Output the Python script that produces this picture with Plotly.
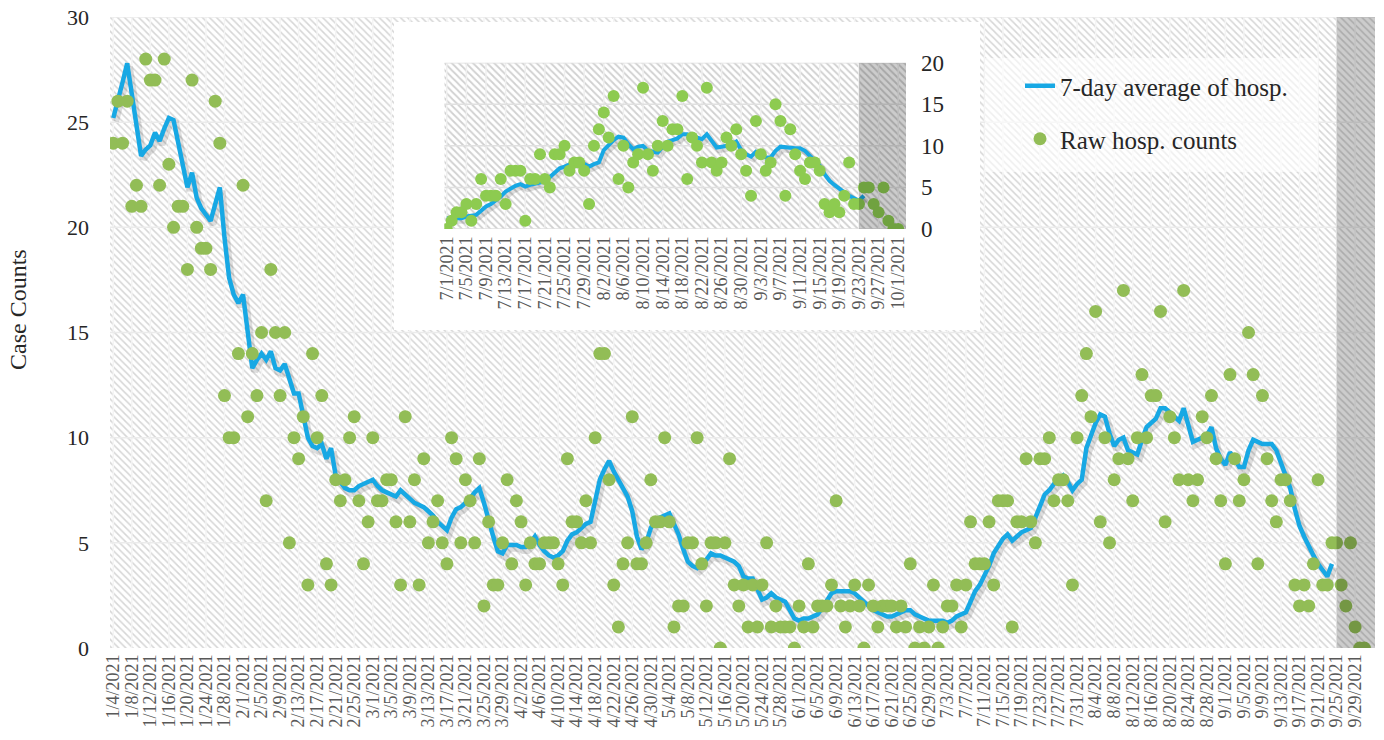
import pandas as pd
import plotly.graph_objects as go

# ---------------- data ----------------
START_DATE = "2021-01-04"

raw_counts = [
    24, 26, 24, 26, 21, 22, 21, 28, 27, 27,
    22, 28, 23, 20, 21, 21, 18, 27, 20, 19,
    19, 18, 26, 24, 12, 10, 10, 14, 22, 11,
    14, 12, 15, 7, 18, 15, 12, 15, 5, 10,
    9, 11, 3, 14, 10, 12, 4, 3, 8, 7,
    8, 10, 11, 7, 4, 6, 10, 7, 7, 8,
    8, 6, 3, 11, 6, 8, 3, 9, 5, 6,
    7, 5, 4, 10, 9, 5, 8, 7, 5, 9,
    2, 6, 3, 3, 5, 8, 4, 7, 6, 3,
    5, 4, 4, 5, 5, 5, 4, 3, 9, 6,
    6, 5, 7, 5, 10, 14, 14, 8, 3, 1,
    4, 5, 11, 4, 4, 5, 8, 6, 6, 10,
    6, 1, 2, 2, 5, 5, 10, 4, 2, 5,
    5, 0, 5, 9, 3, 2, 3, 1, 3, 1,
    3, 5, 1, 2, 1, 1, 1, 0, 2, 1,
    4, 1, 2, 2, 2, 3, 7, 2, 1, 2,
    3, 2, 0, 3, 2, 1, 2, 2, 2, 1,
    2, 1, 4, 0, 1, 0, 1, 3, 0, 1,
    2, 2, 3, 1, 3, 6, 4, 4, 4, 6,
    3, 7, 7, 7, 1, 6, 6, 9, 6, 5,
    9, 9, 10, 7, 8, 8, 7, 3, 10, 12,
    14, 11, 16, 6, 10, 5, 8, 9, 17, 9,
    7, 10, 13, 10, 12, 12, 16, 6, 11, 10,
    8, 17, 8, 7, 8, 11, 10, 12, 9, 7,
    4, 13, 9, 7, 8, 15, 13, 4, 12, 9,
    7, 6, 8, 8, 7, 3, 2, 3, 2, 4,
    8, 3, 3, 5, 5, 3, 2, 5, 1, 0,
    0,
]

avg_7day = [
    25.2, 26.0, 26.9, 27.8, 26.3, 24.8, 23.4, 23.7, 23.9, 24.5,
    24.1, 24.7, 25.2, 25.1, 24.0, 23.0, 21.9, 22.6, 21.4, 20.9,
    20.6, 20.3, 21.1, 21.9, 19.5, 17.6, 16.8, 16.4, 16.8, 15.0,
    13.3, 13.7, 14.0, 13.7, 14.1, 13.3, 13.2, 13.5, 12.8, 12.1,
    12.1, 11.0, 10.0, 9.6, 9.5, 9.7, 9.0, 9.5, 8.2, 7.9,
    7.6, 7.5, 7.5, 7.7, 7.8, 7.9, 8.0, 7.7, 7.5, 7.4,
    7.3, 7.2, 7.5, 7.3, 7.1, 6.9, 6.8, 6.7, 6.5, 6.3,
    6.0, 5.8, 5.6, 6.2, 6.6, 6.7, 6.9, 7.1, 7.4, 7.6,
    6.9, 6.0, 5.3, 4.6, 4.5, 4.9, 4.9, 4.9, 4.8, 4.8,
    5.0, 5.3, 4.9, 4.6, 4.4, 4.3, 4.4, 4.6, 5.1, 5.4,
    5.5, 5.7, 5.9, 6.0, 7.0, 8.0, 8.5, 8.9, 8.4, 8.0,
    7.7, 7.2, 6.5, 5.3, 4.7, 5.0, 5.7, 6.1, 6.2, 6.3,
    6.4, 5.9, 5.4, 4.7, 4.1, 3.9, 3.8, 4.0, 4.2, 4.5,
    4.4, 4.4, 4.3, 4.2, 4.1, 3.9, 3.4, 3.3, 3.3, 2.8,
    2.3, 2.4, 2.6, 2.4, 2.3, 2.2, 1.8, 1.4, 1.3, 1.4,
    1.4, 1.5, 1.6, 1.9, 2.3, 2.6, 2.7, 2.7, 2.7, 2.7,
    2.6, 2.4, 2.2, 2.0, 1.8, 1.7, 1.6, 1.5, 1.5, 1.6,
    1.7, 1.8, 1.8, 1.6, 1.5, 1.4, 1.3, 1.3, 1.3, 1.3,
    1.2, 1.3, 1.5, 1.6, 1.7, 2.2, 2.7, 3.0, 3.4, 3.9,
    4.5, 4.9, 5.2, 5.4, 5.1, 5.3, 5.5, 5.6, 5.7, 6.2,
    6.8, 7.3, 7.5, 7.8, 8.0, 8.2, 7.9, 7.5, 7.8, 8.0,
    9.5, 10.1, 10.7, 11.1, 11.0, 10.2, 9.6, 9.9, 10.0, 9.4,
    9.3, 9.2, 9.9, 10.5, 10.7, 10.9, 11.4, 11.4, 11.2, 11.0,
    10.8, 11.4, 10.5, 9.8, 9.9, 10.0, 10.1, 10.5, 9.5, 9.0,
    8.7, 9.3, 9.0, 8.6, 8.6, 9.4, 9.9, 9.8, 9.7, 9.7,
    9.7, 9.4, 8.8, 8.2, 7.6, 6.6, 5.8, 5.3, 4.8, 4.4,
    4.0, 3.7, 3.4, 4.0,
]

main_tick_dates = pd.date_range("2021-01-04", "2021-09-29", freq="4D")
inset_tick_dates = pd.date_range("2021-07-01", "2021-10-01", freq="4D")
main_y_ticks = [0, 5, 10, 15, 20, 25, 30]
inset_y_ticks = [0, 5, 10, 15, 20]
INSET_START = "2021-07-01"
MAIN_SHADE_START = "2021-09-25"
INSET_SHADE_START = "2021-09-23"

LINE_NAME = "7-day average of hosp."
DOTS_NAME = "Raw hosp. counts"
Y_TITLE = "Case Counts"

# ---------------- derived ----------------
dates = pd.date_range(START_DATE, periods=len(raw_counts), freq="D")
avg_dates = dates[: len(avg_7day)]
raw_s = pd.Series(raw_counts, index=dates)
avg_s = pd.Series(avg_7day, index=avg_dates)
raw_in = raw_s[INSET_START:]
avg_in = avg_s[INSET_START:]

def d2s(d):
    return pd.Timestamp(d).strftime("%Y-%m-%d %H:%M")

def mdY(d):
    return f"{d.month}/{d.day}/{d.year}"

W, H = 1384, 740
FONT = "Liberation Serif"
BLUE = "#17A8E4"
GREEN = "#92BD56"
GREEN_IN = "#8DCB50"

main_xr = [pd.Timestamp("2021-01-04") - pd.Timedelta(hours=17),
           pd.Timestamp("2021-10-03") + pd.Timedelta(hours=7)]
main_yr = [0, 30]
inset_xr = [pd.Timestamp("2021-07-01") - pd.Timedelta(hours=12),
            pd.Timestamp("2021-10-01") + pd.Timedelta(hours=38)]
inset_yr = [0, 20]

def hatch_trace(xr, yr, xa, ya, fg, solidity):
    return go.Scatter(
        x=[d2s(xr[0]), d2s(xr[1]), d2s(xr[1]), d2s(xr[0]), d2s(xr[0])],
        y=[yr[0], yr[0], yr[1], yr[1], yr[0]],
        fill="toself", mode="none", fillcolor="white",
        fillpattern=dict(shape="\\", fgcolor=fg, bgcolor="white", size=5, solidity=solidity),
        xaxis=xa, yaxis=ya, hoverinfo="skip", showlegend=False)

def grid_trace(xticks, yticks, xr, yr, xa, ya, vcolor, hcolor, width):
    gx, gy = [], []
    for d in xticks:
        gx += [d2s(d), d2s(d), None]
        gy += [yr[0], yr[1], None]
    tr1 = go.Scatter(x=gx, y=gy, mode="lines", line=dict(color=vcolor, width=width),
                     xaxis=xa, yaxis=ya, hoverinfo="skip", showlegend=False)
    hx, hy = [], []
    for v in yticks:
        hx += [d2s(xr[0]), d2s(xr[1]), None]
        hy += [v, v, None]
    tr2 = go.Scatter(x=hx, y=hy, mode="lines", line=dict(color=hcolor, width=width),
                     xaxis=xa, yaxis=ya, hoverinfo="skip", showlegend=False)
    return [tr1, tr2]

fig = go.Figure()

# main base: hatch + grid
fig.add_trace(hatch_trace(main_xr, main_yr, "x", "y", "#d6d6d6", 0.3))
for t in grid_trace(main_tick_dates, main_y_ticks[1:], main_xr, main_yr, "x", "y",
                    "#f4f4f4", "#ebebeb", 1.5):
    fig.add_trace(t)

# main shadow (overlay axes shifted slightly)
fig.add_trace(go.Scatter(x=avg_s.index, y=avg_s.values, mode="lines",
                         line=dict(color="rgba(0,0,0,0.13)", width=7),
                         xaxis="x4", yaxis="y4", hoverinfo="skip", showlegend=False))
# main data
fig.add_trace(go.Scatter(x=avg_s.index, y=avg_s.values, mode="lines", name=LINE_NAME,
                         line=dict(color=BLUE, width=4.5), xaxis="x5", yaxis="y5",
                         legend="legend"))
fig.add_trace(go.Scatter(x=raw_s.index, y=raw_s.values, mode="markers", name=DOTS_NAME,
                         marker=dict(color=GREEN, size=13, line=dict(width=0)),
                         xaxis="x5", yaxis="y5", legend="legend2"))

# white box behind inset
fig.add_trace(go.Scatter(x=[0, 1, 1, 0, 0], y=[0, 0, 1, 1, 0], fill="toself", mode="none",
                         fillcolor="white", xaxis="x2", yaxis="y2", hoverinfo="skip",
                         showlegend=False))

# inset base
fig.add_trace(hatch_trace(inset_xr, inset_yr, "x3", "y3", "#d0d0d0", 0.35))
for t in grid_trace(inset_tick_dates, inset_y_ticks, inset_xr, inset_yr, "x3", "y3",
                    "#efefef", "#e0e0e0", 1.5):
    fig.add_trace(t)
fig.add_trace(go.Scatter(x=avg_in.index, y=avg_in.values, mode="lines",
                         line=dict(color="rgba(0,0,0,0.13)", width=6),
                         xaxis="x6", yaxis="y6", hoverinfo="skip", showlegend=False))
fig.add_trace(go.Scatter(x=avg_in.index, y=avg_in.values, mode="lines",
                         line=dict(color=BLUE, width=4), xaxis="x7", yaxis="y7",
                         showlegend=False))
fig.add_trace(go.Scatter(x=raw_in.index, y=raw_in.values, mode="markers",
                         marker=dict(color=GREEN_IN, size=12, line=dict(width=0)),
                         xaxis="x7", yaxis="y7", showlegend=False))

# ---------------- layout ----------------
main_dx = [110 / W, 1375 / W]
main_dy = [1 - 648 / H, 1 - 17 / H]
box_dx = [394 / W, 980 / W]
box_dy = [1 - 330 / H, 1 - 22 / H]
in_dx = [444.3 / W, 906 / W]
in_dy = [1 - 229 / H, 1 - 62.7 / H]

hidden = dict(visible=False, showgrid=False, zeroline=False, fixedrange=True)
shift_t = pd.Timedelta(hours=12)

fig.update_layout(
    width=W, height=H, template="none",
    margin=dict(l=0, r=0, t=0, b=0),
    paper_bgcolor="white", plot_bgcolor="white",
    font=dict(family=FONT, color="#262626"),
    showlegend=True,
    xaxis=dict(domain=main_dx, type="date", range=[d2s(main_xr[0]), d2s(main_xr[1])],
               tickmode="array", tickvals=[d2s(d) for d in main_tick_dates],
               ticktext=[mdY(d) for d in main_tick_dates], tickangle=-90,
               tickfont=dict(size=18, color="#595959", family=FONT), ticks="",
               showgrid=False, zeroline=False, showline=False, automargin=False,
               anchor="y", ticklabelstandoff=2, fixedrange=True),
    yaxis=dict(domain=main_dy, range=main_yr, tickmode="array", tickvals=main_y_ticks,
               tickfont=dict(size=22, color="#262626", family=FONT), ticks="",
               showgrid=False, zeroline=False, showline=False, automargin=False,
               anchor="x", ticklabelstandoff=20, fixedrange=True),
    xaxis2=dict(domain=box_dx, range=[0, 1], anchor="y2", **hidden),
    yaxis2=dict(domain=box_dy, range=[0, 1], anchor="x2", **hidden),
    xaxis3=dict(domain=in_dx, type="date", range=[d2s(inset_xr[0]), d2s(inset_xr[1])],
                tickmode="array", tickvals=[d2s(d) for d in inset_tick_dates],
                ticktext=[mdY(d) for d in inset_tick_dates], tickangle=-90,
                tickfont=dict(size=18, color="#595959", family=FONT), ticks="",
                showgrid=False, zeroline=False, showline=False, automargin=False,
                anchor="y3", ticklabelstandoff=3, fixedrange=True),
    yaxis3=dict(domain=in_dy, range=inset_yr, tickmode="array", tickvals=inset_y_ticks,
                side="right", tickfont=dict(size=23, color="#262626", family=FONT),
                ticks="", showgrid=False, zeroline=False, showline=False,
                automargin=False, anchor="x3", ticklabelstandoff=14, fixedrange=True),
    xaxis4=dict(overlaying="x", type="date", anchor="y4",
                range=[d2s(main_xr[0] - shift_t), d2s(main_xr[1] - shift_t)], **hidden),
    yaxis4=dict(overlaying="y", anchor="x4", range=[0.16, 30.16], **hidden),
    xaxis5=dict(overlaying="x", type="date", anchor="y5",
                range=[d2s(main_xr[0]), d2s(main_xr[1])], **hidden),
    yaxis5=dict(overlaying="y", anchor="x5", range=main_yr, **hidden),
    xaxis6=dict(overlaying="x3", type="date", anchor="y6",
                range=[d2s(inset_xr[0] - shift_t), d2s(inset_xr[1] - shift_t)], **hidden),
    yaxis6=dict(overlaying="y3", anchor="x6", range=[0.3, 20.3], **hidden),
    xaxis7=dict(overlaying="x3", type="date", anchor="y7",
                range=[d2s(inset_xr[0]), d2s(inset_xr[1])], **hidden),
    yaxis7=dict(overlaying="y3", anchor="x7", range=inset_yr, **hidden),
    legend=dict(x=1020 / W, y=1 - 63 / H, xanchor="left", yanchor="top",
                bgcolor="rgba(0,0,0,0)", font=dict(size=25, family=FONT, color="#262626")),
    legend2=dict(x=1020 / W, y=1 - 116 / H, xanchor="left", yanchor="top",
                 bgcolor="rgba(0,0,0,0)", font=dict(size=25, family=FONT, color="#262626")),
    shapes=[
        dict(type="rect", xref="x", yref="y", x0=MAIN_SHADE_START, x1=d2s(main_xr[1]),
             y0=main_yr[0], y1=main_yr[1], fillcolor="rgba(0,0,0,0.2)",
             line=dict(width=0), layer="above"),
        dict(type="rect", xref="x3", yref="y3", x0=INSET_SHADE_START, x1=d2s(inset_xr[1]),
             y0=inset_yr[0], y1=inset_yr[1], fillcolor="rgba(0,0,0,0.2)",
             line=dict(width=0), layer="above"),
        dict(type="rect", xref="paper", yref="paper", x0=985 / W, x1=1318 / W,
             y0=1 - 172 / H, y1=1 - 58 / H, fillcolor="rgba(255,255,255,0.6)",
             line=dict(width=0), layer="above"),
    ],
    annotations=[
        dict(text=Y_TITLE, xref="paper", yref="paper", x=18 / W, y=1 - 310 / H,
             textangle=-90, showarrow=False, xanchor="center", yanchor="middle",
             font=dict(size=24, family=FONT, color="#262626")),
    ],
)

fig.write_html("out.html", config={"displayModeBar": False},
               post_script="document.body.style.margin='0';document.body.style.overflow='hidden';")
